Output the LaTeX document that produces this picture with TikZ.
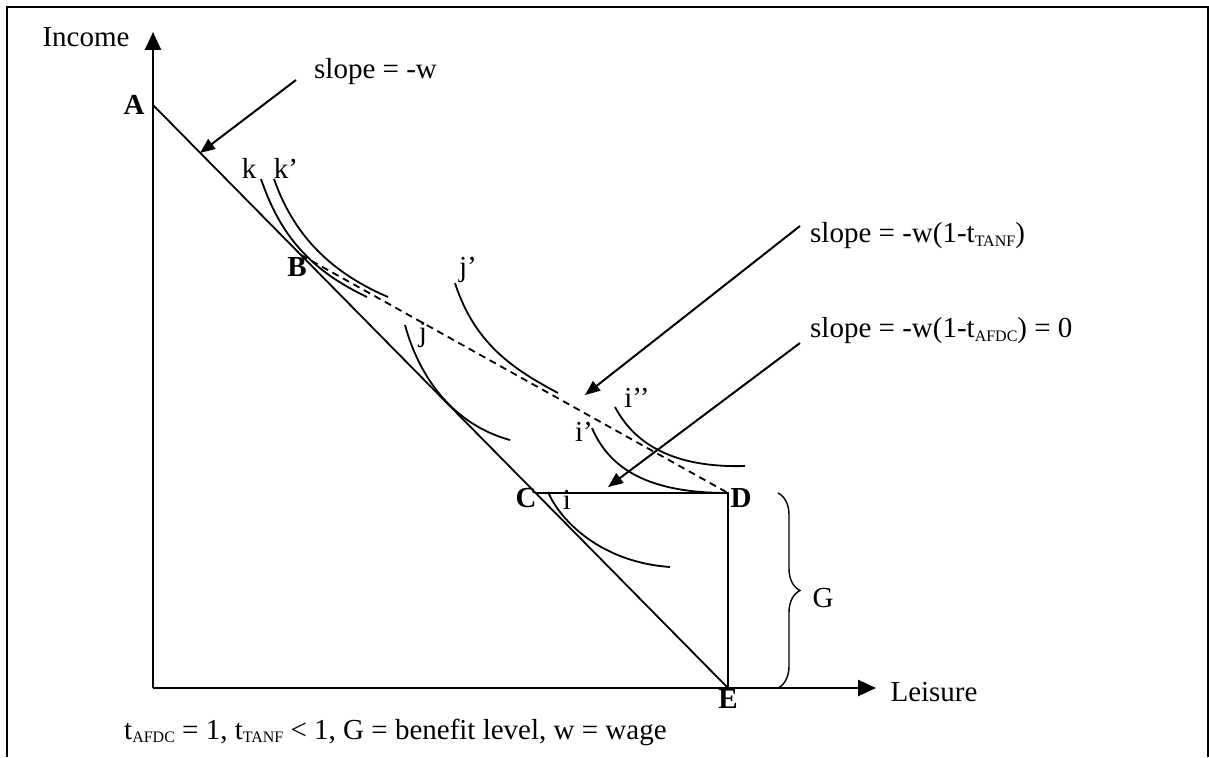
\documentclass[tikz,border=0pt]{standalone}
\usepackage{fontspec}
\setmainfont{Liberation Serif}
\usetikzlibrary{arrows.meta,decorations.pathreplacing}
\newcommand\subsc[2]{\raisebox{-0.12em}{\fontsize{#1}{#1}\selectfont #2}}
\begin{document}
\begin{tikzpicture}[x=1pt,y=-1pt,
  lbl/.style={font=\fontsize{29}{33}\selectfont, inner sep=0pt},
  blbl/.style={font=\fontsize{29}{33}\selectfont\bfseries, inner sep=0pt},
  axis/.style={line width=2.6pt,-{Triangle[length=18pt,width=16pt]}},
  budget/.style={line width=1.8pt},
  curve/.style={line width=1.8pt},
  dashline/.style={line width=1.8pt,dash pattern=on 7pt off 5pt},
  pointer/.style={line width=2pt,-{Triangle[length=15pt,width=12pt]}},
  frame/.style={line width=2.6pt}]
\useasboundingbox (0,0) rectangle (1209,757);
% frame (open at bottom)
\draw[frame] (7,757) -- (7,7) -- (1208,7) -- (1208,757);
% key points
\coordinate (O) at (153,688);
\coordinate (Ytop) at (153,32);
\coordinate (Xend) at (876,688);
\coordinate (A) at (153,105);
\coordinate (B) at (301,255);
\coordinate (C) at (535,493);
\coordinate (D) at (728,493);
\coordinate (E) at (728,688);
% axes
\draw[axis] (O) -- (Ytop);
\draw[axis] (O) -- (Xend);
% budget lines
\draw[budget] (A) -- (E);
\draw[budget] (C) -- (D) -- (E);
\draw[dashline] (B) -- (D);
% indifference curves
\draw[curve] (261,179) .. controls (280,235) and (310,270) .. (367,297);
\draw[curve] (274,179) .. controls (292,230) and (325,270) .. (388,297);
\draw[curve] (405,325) .. controls (420,380) and (455,425) .. (510,440);
\draw[curve] (455,283) .. controls (475,345) and (515,370) .. (558,393);
\draw[curve] (592,428) .. controls (610,470) and (650,493) .. (728,493);
\draw[curve] (615,407) .. controls (635,445) and (675,468) .. (745,466);
\draw[curve] (548,492) .. controls (560,520) and (600,562) .. (670,567);
% brace
\draw[line width=1.4pt,decorate,decoration={brace,amplitude=22pt}] (778,493) -- (778,688);
% labels
\node[lbl] (income) at (86,37) {Income};
\node[lbl] (leisure) at (934,692) {Leisure};
\node[blbl] (lA) at (134,105) {A};
\node[blbl] (lB) at (297,267) {B};
\node[blbl] (lC) at (526,498) {C};
\node[blbl] (lD) at (741,498) {D};
\node[blbl] (lE) at (728,699) {E};
\node[lbl] (lG) at (823,598) {G};
\node[lbl] (lk) at (249,168) {k};
\node[lbl] (lkp) at (286,168) {k’};
\node[lbl] (ljp) at (468,270) {j’};
\node[lbl] (lj) at (423,335) {j};
\node[lbl] (lipp) at (637,398) {i’’};
\node[lbl] (lip) at (584,432) {i’};
\node[lbl] (li) at (567,500) {i};
% slope labels and pointers
\node[lbl,anchor=west] (s1) at (314,72) {slope = -w};
\node[lbl,anchor=west] (s2) at (810,236) {slope = -w(1-t\subsc{16}{TANF})};
\node[lbl,anchor=west] (s3) at (810,331) {slope = -w(1-t\subsc{16}{AFDC}) = 0};
\coordinate (s1t) at (296,80);
\coordinate (s1h) at (200,153);
\coordinate (s2t) at (800,226);
\coordinate (s2h) at (585,395);
\coordinate (s3t) at (800,343);
\coordinate (s3h) at (608,487);
\draw[pointer] (s1t) -- (s1h);
\draw[pointer] (s2t) -- (s2h);
\draw[pointer] (s3t) -- (s3h);
% footnote
\node[lbl,anchor=west] (note) at (124,732)
  {t\subsc{16}{AFDC} = 1, t\subsc{16}{TANF} {<} 1, G = benefit level, w = wage};
\end{tikzpicture}
\end{document}
